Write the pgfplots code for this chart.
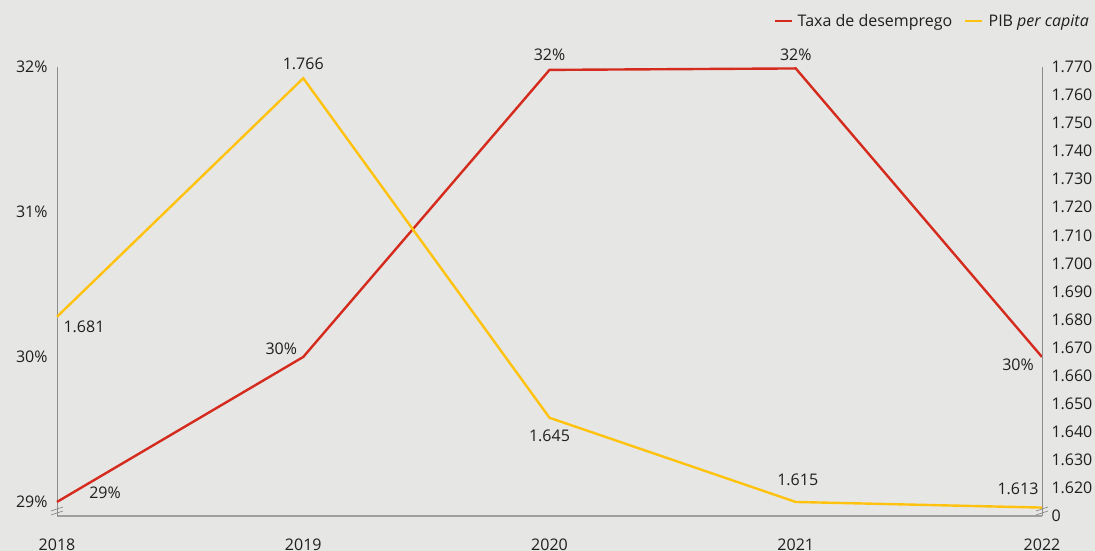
\documentclass[border=0pt]{standalone}
\usepackage{pgfplots}
\pgfplotsset{compat=1.18}
\usepackage{pgfplotstable}
\usepackage{fontspec}
\setmainfont{Open Sans}
\definecolor{bg}{HTML}{E6E6E4}
\definecolor{txred}{HTML}{D52B1E}
\definecolor{pibyel}{HTML}{FFC20E}
\definecolor{axgray}{HTML}{8C8C8C}

% taxa de desemprego (%), label, label offsets (bp)
\pgfplotstableread{
x y lab dx dy
0 29.00 29 48 9
1 30.00 30 -22 8
2 31.98 32 0 15
3 31.99 32 0 14
4 30.00 30 -24 -8
}\taxa
% PIB per capita
\pgfplotstableread{
x y dx dy
0 1.681 27 -10
1 1.766 0 14
2 1.645 0 -18
3 1.615 2 22
4 1.613 -24 19
}\pib

\pgfplotsset{
  common/.style={
    at={(57bp,35bp)}, anchor=south west,
    scale only axis, width=985bp, height=449bp,
    xmin=0, xmax=4, clip=false,
    major tick length=0pt,
    tick label style={font=\fontsize{16bp}{19bp}\selectfont, text=black!88},
    /pgf/number format/assume math mode=true,
    axis line style={axgray, line width=0.9bp},
    every node near coord/.append style={font=\fontsize{16bp}{19bp}\selectfont, text=black!88, anchor=center},
  },
}

\begin{document}
\begin{tikzpicture}
\useasboundingbox (0,0) rectangle (1095bp,551bp);
\fill[bg] (0,0) rectangle (1095bp,551bp);

\begin{axis}[common,
    ymin=28.903, ymax=32,
    axis x line*=bottom, axis y line*=left,
    x axis line style={color=gray!75, line width=1.6bp},
    xtick={0,1,2,3,4}, xticklabels={2018,2019,2020,2021,2022},
    xticklabel style={anchor=base, yshift=-34bp},
    ytick={29,30,31,32},
    yticklabels={29\%,30\%,31\%,32\%},
    yticklabel style={xshift=-6bp},
    legend columns=2,
    legend style={at={(1.0528,1.1024)}, anchor=east, draw=none, fill=none,
      font=\fontsize{16bp}{19bp}\selectfont, text=black!88,
      /tikz/every odd column/.append style={column sep=3bp},
      /tikz/every even column/.append style={column sep=10bp}},
    legend image code/.code={\draw[#1] (0bp,0bp) -- (17bp,0bp);},
  ]
\addplot[txred, line width=2.4bp,
    nodes near coords={\pgfmathprintnumber{\pgfplotspointmeta}\%},
    point meta=explicit,
    visualization depends on={\thisrow{dx} \as \dx},
    visualization depends on={\thisrow{dy} \as \dy},
    nodes near coords style={xshift=\dx bp, yshift=\dy bp}]
  table[x=x, y=y, meta=lab] {\taxa};
\addlegendentry{Taxa de desemprego}
\addlegendimage{pibyel, line width=2.4bp}
\addlegendentry{PIB \textit{per capita}}
% axis break marks
\draw[axgray, line width=0.7bp] (rel axis cs:0,0) ++(-6bp,5bp) -- ++(12bp,4bp);
\draw[axgray, line width=0.7bp] (rel axis cs:0,0) ++(-6bp,1bp) -- ++(12bp,4bp);
\end{axis}

\begin{axis}[common,
    ymin=1.61, ymax=1.77,
    axis x line=none, axis y line*=right,
    ytick={1.61,1.62,1.63,1.64,1.65,1.66,1.67,1.68,1.69,1.70,1.71,1.72,1.73,1.74,1.75,1.76,1.77},
    yticklabels={0,1.620,1.630,1.640,1.650,1.660,1.670,1.680,1.690,1.700,1.710,1.720,1.730,1.740,1.750,1.760,1.770},
    yticklabel style={xshift=6bp},
  ]
\addplot[pibyel, line width=2.4bp,
    nodes near coords={\pgfmathprintnumber[fixed,fixed zerofill,precision=3]{\pgfplotspointmeta}},
    point meta=explicit,
    visualization depends on={\thisrow{dx} \as \dx},
    visualization depends on={\thisrow{dy} \as \dy},
    nodes near coords style={xshift=\dx bp, yshift=\dy bp}]
  table[x=x, y=y, meta=y] {\pib};
\draw[axgray, line width=0.7bp] (rel axis cs:1,0) ++(-6bp,5bp) -- ++(12bp,4bp);
\draw[axgray, line width=0.7bp] (rel axis cs:1,0) ++(-6bp,1bp) -- ++(12bp,4bp);
\end{axis}
\end{tikzpicture}
\end{document}
